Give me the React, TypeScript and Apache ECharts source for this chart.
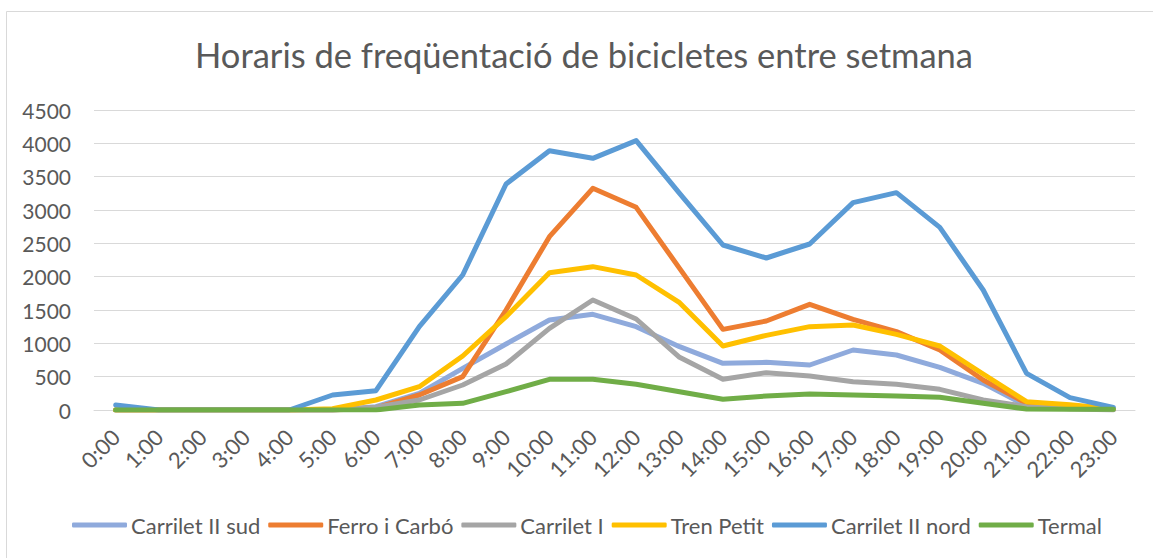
import React, { useEffect, useRef } from "react";
import * as echarts from "echarts";

const hours = ["0:00","1:00","2:00","3:00","4:00","5:00","6:00","7:00","8:00","9:00","10:00","11:00","12:00","13:00","14:00","15:00","16:00","17:00","18:00","19:00","20:00","21:00","22:00","23:00"];

const carriletIISud = [0,0,0,0,0,0,50,250,625,990,1350,1435,1250,950,700,715,675,900,825,640,400,60,30,10];
const ferroICarbo = [0,0,0,0,0,0,30,225,500,1500,2600,3325,3040,2125,1210,1335,1585,1360,1175,900,450,100,40,10];
const carriletI = [0,0,0,0,0,0,40,150,375,690,1225,1650,1365,790,460,560,510,425,385,310,150,50,20,0];
const trenPetit = [0,0,0,0,0,20,150,350,810,1400,2060,2150,2025,1610,960,1120,1250,1275,1135,960,540,125,80,20];
const carriletIINord = [75,0,0,0,0,225,290,1250,2025,3390,3890,3775,4040,3250,2475,2280,2490,3110,3260,2740,1800,550,185,40];
const termal = [0,0,0,0,0,0,0,75,100,275,460,460,385,275,160,210,240,225,210,190,100,15,10,10];

const seriesNames = ["Carrilet II sud","Ferro i Carbó","Carrilet I","Tren Petit","Carrilet II nord","Termal"];
const seriesColors = ["#8FAADC","#ED7D31","#A5A5A5","#FFC000","#5B9BD5","#70AD47"];
const seriesData = [carriletIISud, ferroICarbo, carriletI, trenPetit, carriletIINord, termal];

const FONT = "Lato";
const TEXT = "#595959";

export default function App() {
  const ref = useRef<HTMLDivElement>(null);
  useEffect(() => {
    if (!ref.current) return;
    const chart = echarts.init(ref.current, null, { renderer: "svg" });
    chart.setOption({
      animation: false,
      backgroundColor: "#ffffff",
      title: {
        text: "Horaris de freqüentació de bicicletes entre setmana",
        left: 584,
        top: 37,
        padding: 0,
        textAlign: "center",
        textStyle: { fontFamily: FONT, fontSize: 34.5, fontWeight: "normal", color: TEXT },
      },
      legend: {
        left: 72,
        top: 514,
        padding: 0,
        icon: "roundRect",
        itemWidth: 55,
        itemHeight: 5,
        itemGap: 8,
        textStyle: { fontFamily: FONT, fontSize: 22, color: TEXT, padding: [0, 0, 0, -1] },
        data: seriesNames,
      },
      graphic: [
        {
          type: "rect",
          shape: { x: 6.5, y: 11.5, width: 1160, height: 560 },
          style: { fill: "none", stroke: "#D9D9D9", lineWidth: 1 },
          silent: true,
          z: -10,
        },
      ],
      grid: { left: 94, right: 18, top: 110, bottom: 148 },
      xAxis: {
        type: "category",
        data: hours,
        boundaryGap: true,
        axisLine: { lineStyle: { color: "#D9D9D9", width: 1 } },
        axisTick: { show: false },
        axisLabel: { rotate: 45, margin: 23, fontFamily: FONT, fontSize: 22, color: TEXT, interval: 0 },
      },
      yAxis: {
        type: "value",
        min: 0,
        max: 4500,
        interval: 500,
        axisLine: { show: false },
        axisTick: { show: false },
        splitLine: { lineStyle: { color: "#D9D9D9", width: 1 } },
        axisLabel: {
          margin: 23,
          fontFamily: FONT,
          fontSize: 21,
          color: TEXT,
          formatter: (v: number) => String(v),
        },
      },
      series: seriesNames.map((name, i) => ({
        name,
        type: "line",
        data: seriesData[i],
        symbol: "none",
        color: seriesColors[i],
        lineStyle: { width: 5, color: seriesColors[i], cap: "round", join: "round" },
        z: 2 + i,
      })),
    });
    return () => chart.dispose();
  }, []);
  return (
    <div
      ref={ref}
      style={{ position: "absolute", left: 0, top: 0, width: 1153, height: 558 }}
    />
  );
}
